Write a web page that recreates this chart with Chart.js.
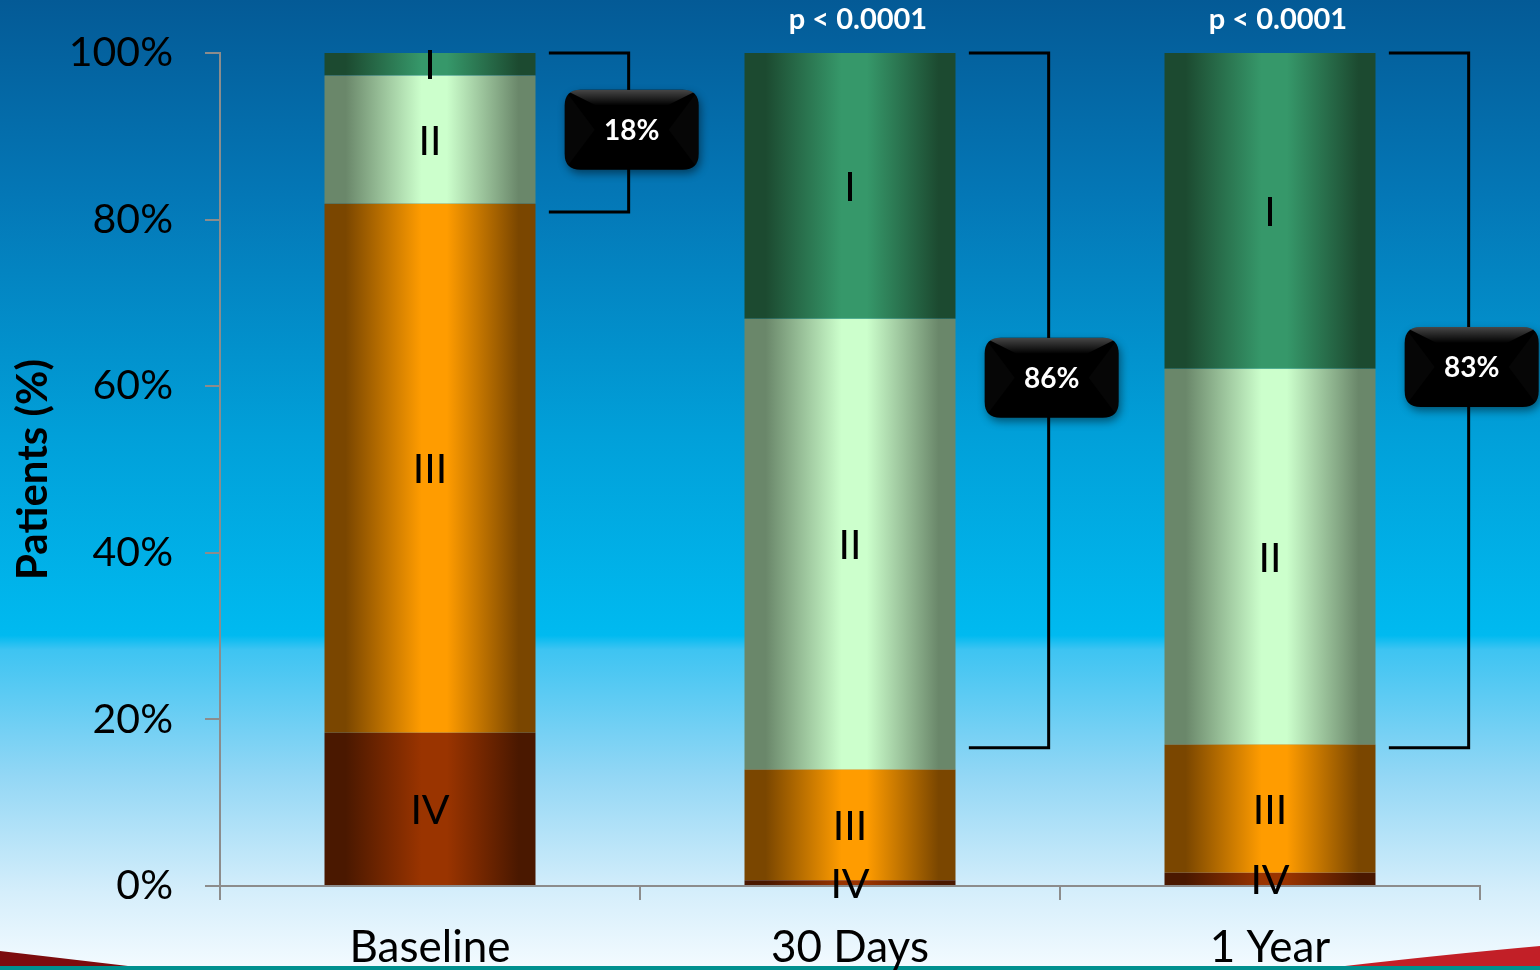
<!DOCTYPE html>
<html>
<head>
<meta charset="utf-8">
<title>NYHA class over time</title>
<script src="https://cdn.jsdelivr.net/npm/chart.js@4.4.1/dist/chart.umd.min.js"></script>
<style>
  html, body { margin: 0; padding: 0; background: #0a74b2; overflow: hidden; }
  #wrap { width: 1540px; height: 970px; position: relative; }
  canvas { display: block; }
</style>
</head>
<body>
<div id="wrap"><canvas id="chart" width="1540" height="970"></canvas></div>
<script>
// Time points on the x axis
const categories = ['Baseline', '30 Days', '1 Year'];

// Share of patients in each NYHA class (%), stacked bottom-up: IV, III, II, I
const classIV  = [18.4, 0.7, 1.6];
const classIII = [63.5, 13.3, 15.4];
const classII  = [15.4, 54.1, 45.1];
const classI   = [2.7, 31.9, 37.9];

// Combined class I + II share shown in the bracket badges
const classIandII = [18, 86, 83];
// Lower end of each bracket (%), bracket top is always 100%
const bracketLow = [80.9, 16.6, 16.6];
// Vertical position (%) of each badge on its bracket
const badgeAt = [90.8, 61.0, 62.3];
// Significance versus baseline
const pValues = ['', 'p < 0.0001', 'p < 0.0001'];

// Y axis ticks
const yMin = 0, yMax = 100, yStep = 20;

const FONT = 'Lato, "Open Sans", "DejaVu Sans", sans-serif';

// Cylinder-like shading: dark edges, bright middle
function barFill(dark, bright) {
  return (ctx) => {
    const chart = ctx.chart;
    const xs = chart.scales && chart.scales.x;
    if (ctx.type !== 'data' || !xs || !chart.chartArea) return bright;
    const xc = xs.getPixelForValue(ctx.dataIndex);
    const half = (xs.width / categories.length) * ctx.dataset.barPercentage / 2;
    const g = chart.ctx.createLinearGradient(xc - half, 0, xc + half, 0);
    g.addColorStop(0, dark);
    g.addColorStop(0.1, dark);
    g.addColorStop(0.46, bright);
    g.addColorStop(0.58, bright);
    g.addColorStop(0.92, dark);
    g.addColorStop(1, dark);
    return g;
  };
}

const bgPlugin = {
  id: 'slideBackground',
  beforeDraw(chart) {
    const c = chart.ctx, W = chart.width, H = chart.height;
    c.save();
    const g = c.createLinearGradient(0, 0, 0, H);
    g.addColorStop(0.00, '#045a96');
    g.addColorStop(0.20, '#0477b6');
    g.addColorStop(0.45, '#01a0d9');
    g.addColorStop(0.655, '#00baf0');
    g.addColorStop(0.67, '#3ec4f2');
    g.addColorStop(0.80, '#93d7f5');
    g.addColorStop(0.92, '#d5eefb');
    g.addColorStop(1.00, '#f4fbff');
    c.fillStyle = g;
    c.fillRect(0, 0, W, H);

    // left red swoosh
    c.beginPath();
    c.moveTo(0, 951);
    c.quadraticCurveTo(60, 958, 128, 966);
    c.lineTo(0, 966);
    c.closePath();
    c.fillStyle = '#7c0c0e';
    c.fill();
    // right red swoosh
    c.beginPath();
    c.moveTo(1345, 966);
    c.quadraticCurveTo(1450, 954, 1540, 946);
    c.lineTo(1540, 966);
    c.closePath();
    c.fillStyle = '#c21f27';
    c.fill();
    // teal strip along the bottom
    c.fillStyle = '#00908f';
    c.fillRect(0, 966, W, 4);
    c.restore();
  }
};

function roundRect(c, x, y, w, h, r) {
  c.beginPath();
  c.moveTo(x + r, y);
  c.lineTo(x + w - r, y);
  c.quadraticCurveTo(x + w, y, x + w, y + r);
  c.lineTo(x + w, y + h - r);
  c.quadraticCurveTo(x + w, y + h, x + w - r, y + h);
  c.lineTo(x + r, y + h);
  c.quadraticCurveTo(x, y + h, x, y + h - r);
  c.lineTo(x, y + r);
  c.quadraticCurveTo(x, y, x + r, y);
  c.closePath();
}

const annotPlugin = {
  id: 'segmentsAndBrackets',
  afterDatasetsDraw(chart) {
    const c = chart.ctx;
    const xs = chart.scales.x, ys = chart.scales.y;
    c.save();

    // class labels in the middle of each segment
    c.font = '41px ' + FONT;
    c.fillStyle = '#000';
    c.textAlign = 'center';
    c.textBaseline = 'middle';
    chart.data.datasets.forEach((ds, di) => {
      const meta = chart.getDatasetMeta(di);
      meta.data.forEach((el) => {
        c.fillText(ds.label, el.x, (el.y + el.base) / 2 + 2);
      });
    });

    // brackets and badges
    const catW = xs.width / categories.length;
    categories.forEach((cat, i) => {
      const xc = xs.getPixelForValue(i);
      const x0 = xc + catW * 0.283;
      const x1 = xc + catW * 0.473;
      const yT = ys.getPixelForValue(100);
      const yB = ys.getPixelForValue(bracketLow[i]);
      c.strokeStyle = '#000';
      c.lineWidth = 3;
      c.beginPath();
      c.moveTo(x0, yT);
      c.lineTo(x1, yT);
      c.lineTo(x1, yB);
      c.lineTo(x0, yB);
      c.stroke();

      const bw = 134, bh = 80, r = 16;
      const bx = x1 + 3 - bw / 2;
      const by = ys.getPixelForValue(badgeAt[i]) - bh / 2;
      c.save();
      c.shadowColor = 'rgba(0,0,0,0.45)';
      c.shadowBlur = 8;
      c.shadowOffsetX = 2;
      c.shadowOffsetY = 4;
      roundRect(c, bx, by, bw, bh, r);
      c.fillStyle = '#000';
      c.fill();
      c.restore();

      // bevel: faint side facets and a top highlight
      c.save();
      roundRect(c, bx, by, bw, bh, r);
      c.clip();
      c.fillStyle = 'rgba(255,255,255,0.025)';
      c.beginPath();
      c.moveTo(bx, by);
      c.lineTo(bx + 30, by + bh / 2);
      c.lineTo(bx, by + bh);
      c.closePath();
      c.fill();
      c.beginPath();
      c.moveTo(bx + bw, by);
      c.lineTo(bx + bw - 30, by + bh / 2);
      c.lineTo(bx + bw, by + bh);
      c.closePath();
      c.fill();
      const hg = c.createLinearGradient(0, by, 0, by + 16);
      hg.addColorStop(0, 'rgba(255,255,255,0.28)');
      hg.addColorStop(1, 'rgba(255,255,255,0)');
      c.fillStyle = hg;
      c.beginPath();
      c.moveTo(bx, by);
      c.lineTo(bx + bw, by);
      c.lineTo(bx + bw - 32, by + 16);
      c.lineTo(bx + 32, by + 16);
      c.closePath();
      c.fill();
      c.restore();

      c.fillStyle = '#fff';
      c.font = 'bold 28px ' + FONT;
      c.textAlign = 'center';
      c.textBaseline = 'middle';
      c.fillText(classIandII[i] + '%', bx + bw / 2, by + bh / 2 + 1);

      if (pValues[i]) {
        c.font = 'bold 29px ' + FONT;
        c.fillText(pValues[i], xc + 8, 20);
      }
    });
    c.restore();
  }
};

function build() {
  const barPct = 211 / 420;
  const mk = (label, data, dark, bright) => ({
    label, data,
    backgroundColor: barFill(dark, bright),
    borderWidth: 0,
    barPercentage: barPct,
    categoryPercentage: 1
  });

  new Chart(document.getElementById('chart'), {
    type: 'bar',
    data: {
      labels: categories,
      datasets: [
        mk('IV',  classIV,  '#4a1800', '#9a3400'),
        mk('III', classIII, '#7a4600', '#ff9c00'),
        mk('II',  classII,  '#6a876a', '#ccffcc'),
        mk('I',   classI,   '#1c4a30', '#36986a')
      ]
    },
    options: {
      responsive: false,
      animation: false,
      layout: { padding: { top: 53, right: 60, left: 0, bottom: 0 } },
      plugins: {
        legend: { display: false },
        tooltip: { enabled: false }
      },
      scales: {
        x: {
          stacked: true,
          afterFit(scale) { scale.height = 84; },
          grid: { drawOnChartArea: false, tickLength: 14, color: '#8c8c8c', lineWidth: 2 },
          border: { color: '#8c8c8c', width: 2 },
          ticks: { color: '#000', font: { family: FONT, size: 44 }, padding: 21, maxRotation: 0 }
        },
        y: {
          stacked: true,
          min: yMin, max: yMax,
          afterFit(scale) {
            scale.width = 220;
            scale.paddingTop = 0;
            scale.paddingBottom = 0;
          },
          grid: { drawOnChartArea: false, tickLength: 15, color: '#8c8c8c', lineWidth: 2 },
          border: { color: '#8c8c8c', width: 2 },
          ticks: {
            stepSize: yStep,
            color: '#000',
            font: { family: FONT, size: 41 },
            padding: 32,
            callback: (v) => v + '%'
          },
          title: {
            display: true,
            text: 'Patients (%)',
            color: '#000',
            font: { family: FONT, size: 42, weight: 'bold' },
            padding: { top: 8, bottom: 0 }
          }
        }
      }
    },
    plugins: [bgPlugin, annotPlugin]
  });
}

const fontLoads = ['41px Lato', '44px Lato', 'bold 28px Lato', 'bold 42px Lato'].map(f => document.fonts.load(f).catch(() => null));
Promise.all(fontLoads).then(build, build);
</script>
</body>
</html>
